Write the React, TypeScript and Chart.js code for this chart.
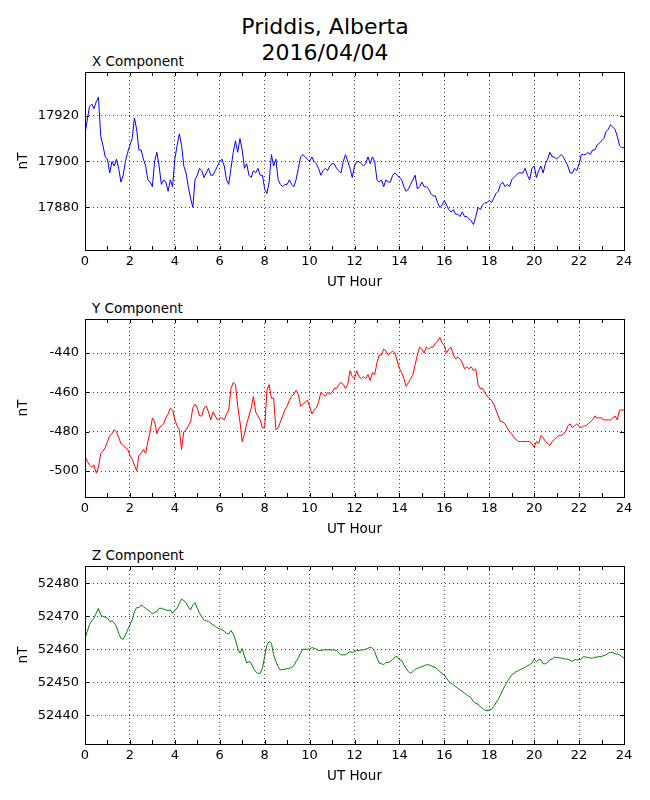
import { useEffect, useRef } from 'react'
import { Chart, registerables } from 'chart.js'

Chart.register(...registerables)

// one reading every 0.1 hour, 0 to 24 UT
const SAMPLE_STEP = 0.1

const X_NT = [
  17912, 17918, 17924, 17925, 17923, 17926, 17928, 17911, 17907, 17902,
  17901, 17895, 17900, 17898, 17901, 17897, 17891, 17894, 17900, 17904,
  17907, 17910, 17919, 17914, 17905, 17905, 17901, 17898, 17892, 17891,
  17889, 17900, 17904, 17898, 17890, 17892, 17891, 17887, 17892, 17889,
  17901, 17907, 17912, 17907, 17898, 17895, 17889, 17884, 17880, 17892,
  17894, 17897, 17896, 17893, 17895, 17897, 17894, 17894, 17896, 17898,
  17900, 17901, 17898, 17892, 17890, 17897, 17904, 17909, 17904, 17910,
  17905, 17897, 17899, 17894, 17893, 17896, 17895, 17897, 17894, 17894,
  17888, 17886, 17891, 17903, 17898, 17901, 17892, 17890, 17889, 17890,
  17890, 17892, 17890, 17889, 17892, 17897, 17902, 17903, 17902, 17901,
  17900, 17902, 17900, 17899, 17897, 17894, 17896, 17897, 17896, 17898,
  17899, 17899, 17897, 17896, 17895, 17900, 17903, 17900, 17897, 17893,
  17898, 17900, 17900, 17899, 17898, 17899, 17902, 17899, 17902, 17900,
  17892, 17891, 17892, 17889, 17892, 17891, 17891, 17894, 17895, 17894,
  17893, 17892, 17889, 17887, 17888, 17890, 17892, 17894, 17888, 17889,
  17891, 17889, 17889, 17888, 17886, 17885, 17885, 17882, 17880, 17881,
  17883, 17881, 17879, 17878, 17879, 17877, 17877, 17876, 17878, 17876,
  17876, 17875, 17874, 17872.5, 17876, 17880, 17879, 17881, 17882, 17882,
  17883, 17882, 17884, 17886, 17887, 17890, 17891, 17889, 17890, 17889,
  17892, 17893, 17894, 17895, 17895, 17895, 17897, 17894, 17892, 17897,
  17898, 17893, 17896, 17898, 17895, 17899, 17901, 17904, 17902, 17902,
  17901, 17902, 17903, 17902, 17900, 17898, 17895, 17895, 17897, 17896,
  17899, 17903, 17903, 17903, 17904, 17903, 17905, 17905, 17907, 17908,
  17909, 17910, 17913, 17914, 17916, 17915, 17914, 17911, 17907, 17906,
  17906,
]

const Y_NT = [
  -492, -495, -497, -498, -497, -501, -498, -491, -490, -488,
  -485, -482, -481, -479, -480, -483, -486, -487, -488, -489,
  -492, -494, -497, -500, -492, -491, -489, -491, -485, -480,
  -473, -475, -481, -478, -477, -476, -473, -471, -468, -469,
  -474, -477, -479, -489, -480, -479, -477, -475, -468, -466,
  -468, -472, -472, -468, -467, -470, -474, -470, -472, -474,
  -473, -473, -474, -471, -469, -458, -455, -456, -467, -475,
  -485, -481, -476, -472, -468, -462, -470, -472, -474, -478,
  -478, -459, -456, -463, -463, -479, -478, -475, -472, -469,
  -467, -464, -462, -461, -459, -461, -467, -466, -465, -464,
  -467, -471, -469, -468, -465, -460, -461, -462, -460, -461,
  -460, -458, -458, -456, -455, -456, -458, -456, -449, -452,
  -453, -449, -452, -453, -452, -453, -451, -454, -450, -451,
  -445, -441, -441, -438, -439, -441, -440, -439, -440, -444,
  -448, -450, -453, -457, -455, -453, -451, -446, -441, -437,
  -438, -440, -437, -438, -437, -437, -435, -434, -432, -435,
  -436, -440, -438, -437, -441, -443, -442, -443, -445, -448,
  -447, -448, -447, -449, -448, -456, -458, -458, -460, -462,
  -463, -464, -466, -469, -472, -475, -475, -476, -478, -480,
  -481, -483, -484, -485, -485, -485, -485, -485, -485, -486,
  -488, -485, -486, -482, -483, -485, -486, -487, -485, -484,
  -483, -482, -482, -481, -480, -477, -476, -478, -477, -476,
  -477, -478, -477, -477, -476, -475, -474, -472, -473, -473,
  -473, -474, -474, -474, -474, -473, -472, -474, -469, -469,
  -469,
]

const Z_NT = [
  52463.3, 52465.4, 52467.4, 52468.6, 52469.4, 52470.9, 52472.4, 52470.4, 52469.9, 52469.7,
  52469.4, 52468.4, 52468.6, 52468.0, 52466.9, 52464.8, 52463.3, 52463.0, 52464.3, 52465.9,
  52467.4, 52468.9, 52471.4, 52472.6, 52472.6, 52473.4, 52472.9, 52472.4, 52471.9, 52471.4,
  52470.7, 52471.1, 52471.4, 52472.4, 52472.4, 52472.1, 52471.9, 52471.7, 52471.9, 52470.9,
  52471.9, 52472.4, 52473.9, 52475.2, 52474.7, 52474.1, 52472.9, 52471.9, 52473.4, 52474.1,
  52472.4, 52470.9, 52469.9, 52468.9, 52468.6, 52468.4, 52467.9, 52467.4, 52466.9, 52466.4,
  52466.2, 52465.9, 52465.4, 52464.8, 52464.6, 52465.7, 52464.6, 52462.8, 52460.3, 52458.8,
  52460.2, 52457.8, 52455.8, 52456.3, 52455.8, 52454.2, 52453.2, 52452.7, 52452.7, 52454.2,
  52457.8, 52461.3, 52462.3, 52461.8, 52458.3, 52456.3, 52454.7, 52453.7, 52453.9, 52453.9,
  52454.2, 52454.2, 52454.5, 52455.0, 52456.3, 52457.3, 52458.8, 52460.0, 52460.0, 52460.0,
  52460.0, 52460.5, 52460.3, 52460.0, 52459.6, 52459.6, 52459.8, 52459.8, 52459.8, 52459.8,
  52459.8, 52459.8, 52459.6, 52459.0, 52458.3, 52458.3, 52458.3, 52458.8, 52459.3, 52459.0,
  52459.3, 52459.6, 52459.6, 52459.8, 52459.8, 52460.0, 52460.3, 52460.6, 52460.3, 52459.3,
  52457.3, 52455.8, 52455.6, 52455.3, 52456.0, 52456.0, 52456.3, 52456.8, 52457.6, 52457.8,
  52456.8, 52456.6, 52455.3, 52454.2, 52453.2, 52452.7, 52453.2, 52453.9, 52454.2, 52454.5,
  52454.7, 52455.0, 52455.3, 52455.3, 52455.0, 52454.7, 52454.5, 52453.9, 52453.2, 52452.7,
  52452.2, 52451.2, 52450.2, 52449.7, 52449.2, 52448.7, 52448.2, 52447.7, 52447.2, 52446.7,
  52446.2, 52445.7, 52445.2, 52444.1, 52443.6, 52443.4, 52442.6, 52442.1, 52441.6, 52441.4,
  52441.6, 52441.8, 52442.6, 52443.8, 52444.8, 52446.2, 52447.7, 52448.9, 52450.2, 52451.2,
  52452.2, 52452.7, 52453.2, 52453.5, 52453.9, 52454.2, 52454.5, 52455.0, 52455.3, 52455.8,
  52457.0, 52456.3, 52456.8, 52456.8, 52455.6, 52455.6, 52456.0, 52456.8, 52457.0, 52457.6,
  52457.5, 52457.4, 52457.3, 52457.2, 52457.0, 52457.0, 52456.6, 52456.3, 52456.8, 52456.8,
  52456.8, 52457.0, 52457.8, 52457.6, 52457.5, 52457.3, 52457.3, 52457.6, 52457.6, 52457.8,
  52457.8, 52458.1, 52458.3, 52458.8, 52459.0, 52459.0, 52458.6, 52458.5, 52458.3, 52457.8,
  52457.3,
]

const FONT = "'DejaVu Sans', sans-serif"
const GRID = 'rgba(0,0,0,0.75)'

// matplotlib-style frame with ticks pointing inwards
const insideTicks = {
  id: 'insideTicks',
  afterDraw(chart: any) {
    const { ctx, chartArea: a, scales } = chart
    const len = 4
    ctx.save()
    ctx.strokeStyle = '#000'
    ctx.lineWidth = 1
    ctx.beginPath()
    for (const t of scales.x.ticks) {
      const px = Math.round(scales.x.getPixelForValue(t.value)) + 0.5
      ctx.moveTo(px, a.bottom)
      ctx.lineTo(px, a.bottom - len)
      ctx.moveTo(px, a.top)
      ctx.lineTo(px, a.top + len)
    }
    for (const t of scales.y.ticks) {
      const py = Math.round(scales.y.getPixelForValue(t.value)) + 0.5
      ctx.moveTo(a.left, py)
      ctx.lineTo(a.left + len, py)
      ctx.moveTo(a.right, py)
      ctx.lineTo(a.right - len, py)
    }
    ctx.stroke()
    ctx.strokeRect(Math.round(a.left) + 0.5, Math.round(a.top) + 0.5, Math.round(a.width), Math.round(a.height))
    ctx.restore()
  },
}

interface PanelProps {
  title: string
  values: number[]
  color: string
  yMin: number
  yMax: number
  yStep: number
  top: number
}

function Panel({ title, values, color, yMin, yMax, yStep, top }: PanelProps) {
  const canvasRef = useRef<HTMLCanvasElement>(null)

  useEffect(() => {
    if (!canvasRef.current) return
    const ctx = canvasRef.current.getContext('2d')
    if (!ctx) return

    const chart = new Chart(ctx, {
      type: 'line',
      data: {
        datasets: [
          {
            data: values.map((v, i) => ({ x: i * SAMPLE_STEP, y: v })),
            borderColor: color,
            borderWidth: 1,
            pointRadius: 0,
            tension: 0,
            fill: false,
          },
        ],
      },
      options: {
        responsive: false,
        animation: false,
        layout: { padding: { top: 18, right: 26, bottom: 4, left: 0 } },
        plugins: { legend: { display: false }, tooltip: { enabled: false } },
        scales: {
          x: {
            type: 'linear',
            min: 0,
            max: 24,
            afterFit: (s: any) => {
              s.height = 45
            },
            ticks: {
              stepSize: 1,
              autoSkip: false,
              maxRotation: 0,
              padding: 4,
              color: '#000',
              font: { family: FONT, size: 13 },
              callback: (v: any) => (Number(v) % 2 === 0 ? String(v) : ''),
            },
            grid: {
              drawTicks: false,
              lineWidth: 1,
              color: (c: any) => (c.tick && c.tick.value % 2 === 0 ? GRID : 'rgba(0,0,0,0)'),
            },
            border: { display: false, dash: [1, 3] },
            title: {
              display: true,
              text: 'UT Hour',
              color: '#000',
              font: { family: FONT, size: 13.5 },
              padding: { top: 0, bottom: 4 },
            },
          },
          y: {
            type: 'linear',
            min: yMin,
            max: yMax,
            afterFit: (s: any) => {
              s.width = 85
            },
            ticks: {
              stepSize: yStep,
              includeBounds: false,
              padding: 6,
              color: '#000',
              font: { family: FONT, size: 13 },
              callback: (v: any) => String(v),
            },
            grid: { drawTicks: false, lineWidth: 1, color: GRID },
            border: { display: false, dash: [1, 3] },
            title: {
              display: true,
              text: 'nT',
              color: '#000',
              font: { family: FONT, size: 13.5 },
              padding: { top: 15, bottom: 0 },
            },
          },
        },
      },
      plugins: [insideTicks],
    } as any)

    return () => {
      chart.destroy()
    }
  }, [values, color, yMin, yMax, yStep])

  return (
    <>
      <div
        style={{
          position: 'absolute',
          left: 92,
          top: top,
          fontFamily: FONT,
          fontSize: 13.5,
          lineHeight: '16px',
          color: '#000',
          whiteSpace: 'nowrap',
        }}
      >
        {title}
      </div>
      <canvas
        ref={canvasRef}
        width={650}
        height={245}
        style={{ position: 'absolute', left: 0, top: top + 1, width: 650, height: 245 }}
      />
    </>
  )
}

export default function App() {
  return (
    <div
      style={{
        position: 'absolute',
        left: 0,
        top: 0,
        width: 650,
        height: 800,
        overflow: 'hidden',
        background: '#fff',
      }}
    >
      <div
        style={{
          position: 'absolute',
          left: 0,
          top: 14,
          width: 650,
          textAlign: 'center',
          fontFamily: FONT,
          fontSize: 22,
          lineHeight: '26px',
          color: '#000',
        }}
      >
        Priddis, Alberta
        <br />
        2016/04/04
      </div>
      <Panel title="X Component" values={X_NT} color="#0000ff" yMin={17861.4} yMax={17939} yStep={20} top={53} />
      <Panel title="Y Component" values={Y_NT} color="#ff0000" yMin={-513.2} yMax={-422.7} yStep={20} top={300} />
      <Panel title="Z Component" values={Z_NT} color="#008000" yMin={52431.3} yMax={52485.2} yStep={10} top={547} />
    </div>
  )
}
